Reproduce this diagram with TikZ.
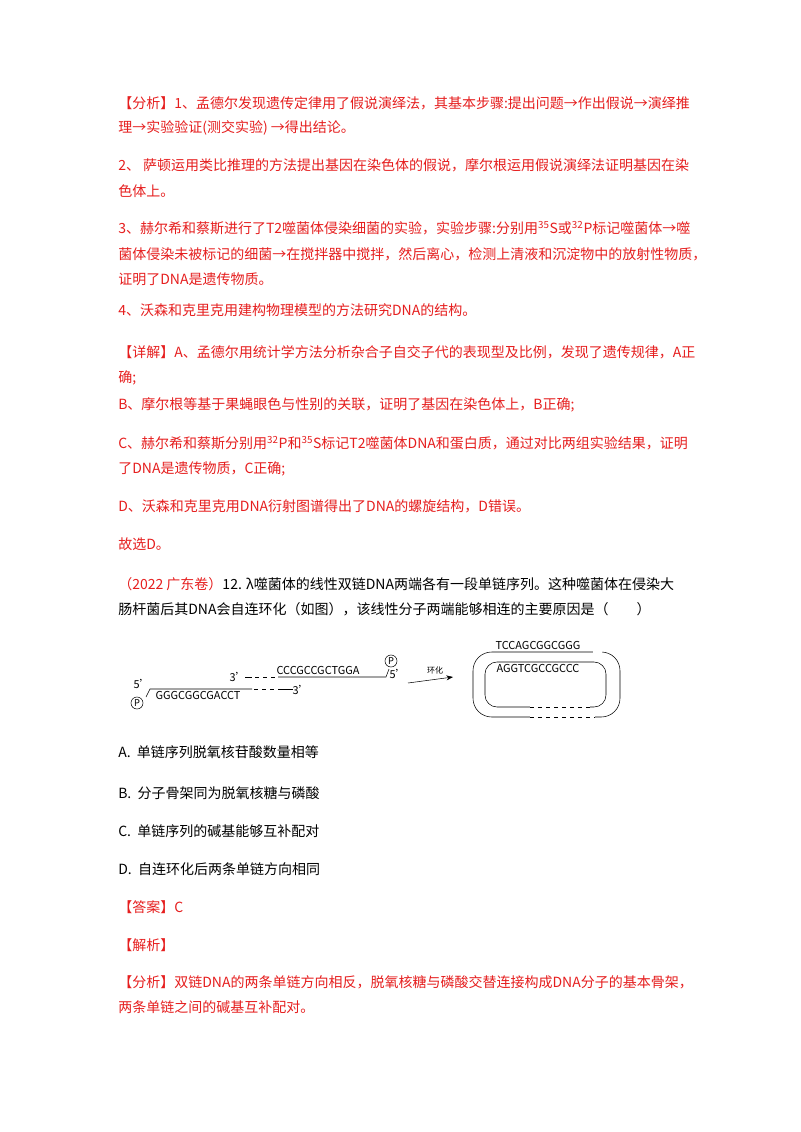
\documentclass[tikz,border=0pt]{standalone}
\usepackage{fontspec}
\setmainfont{Noto Sans CJK SC}
\usetikzlibrary{arrows.meta}
\definecolor{ansred}{RGB}{230,30,30}
\def\lx{118}
\begin{document}
\begin{tikzpicture}[x=0.75pt,y=-0.75pt,
    txt/.style={anchor=west,inner sep=0pt,font=\fontsize{10.5}{12}\selectfont},
    red/.style={txt,text=ansred},
    seq/.style={inner sep=0pt,font=\fontsize{8.2}{9}\selectfont},
    phos/.style={draw,circle,inner sep=0.8pt,font=\fontsize{7}{7}\selectfont}]
\useasboundingbox[fill=white] (0,0) rectangle (800,1132);
%分析
    \node[red] (l1) at (\lx,103) {【分析】1、孟德尔发现遗传定律用了假说演绎法，其基本步骤:提出问题→作出假说→演绎推};
    \node[red] (l2) at (\lx,128) {理→实验验证(测交实验) →得出结论。};
    \node[red] (l3) at (\lx,165) {2、 萨顿运用类比推理的方法提出基因在染色体的假说，摩尔根运用假说演绎法证明基因在染};
    \node[red] (l4) at (\lx,191) {色体上。};
    \node[red] (l5) at (\lx,228) {3、赫尔希和蔡斯进行了T2噬菌体侵染细菌的实验，实验步骤:分别用\textsuperscript{35}S或\textsuperscript{32}P标记噬菌体→噬};
    \node[red] (l6) at (\lx,254) {菌体侵染未被标记的细菌→在搅拌器中搅拌，然后离心，检测上清液和沉淀物中的放射性物质，};
    \node[red] (l7) at (\lx,279) {证明了DNA是遗传物质。};
    \node[red] (l8) at (\lx,310) {4、沃森和克里克用建构物理模型的方法研究DNA的结构。};
%详解
    \node[red] (d1) at (\lx,352) {【详解】A、孟德尔用统计学方法分析杂合子自交子代的表现型及比例，发现了遗传规律，A正};
    \node[red] (d2) at (\lx,378) {确;};
    \node[red] (d3) at (\lx,405) {B、摩尔根等基于果蝇眼色与性别的关联，证明了基因在染色体上，B正确;};
    \node[red] (d4) at (\lx,443) {C、赫尔希和蔡斯分别用\textsuperscript{32}P和\textsuperscript{35}S标记T2噬菌体DNA和蛋白质，通过对比两组实验结果，证明};
    \node[red] (d5) at (\lx,469) {了DNA是遗传物质，C正确;};
    \node[red] (d6) at (\lx,506) {D、沃森和克里克用DNA衍射图谱得出了DNA的螺旋结构，D错误。};
    \node[red] (d7) at (\lx,544) {故选D。};
%题目
    \node[txt] (q1) at (\lx,584) {\textcolor{ansred}{（2022 广东卷）}12. λ噬菌体的线性双链DNA两端各有一段单链序列。这种噬菌体在侵染大};
    \node[txt] (q2) at (\lx,609) {肠杆菌后其DNA会自连环化（如图），该线性分子两端能够相连的主要原因是（\quad\quad）};
%图
    \node[seq,anchor=south] (top) at (318,675) {CCCGCCGCTGGA};
    \node[seq] (t3) at (238,677) {3'};
    \draw (245,677) -- (252,677);
    \draw[dashed] (255,677) -- (278,677);
    \draw (278,677) -- (386,677) -- (389,669);
    \node[phos] (p1) at (391,661) {P};
    \node[seq] (t5) at (398,674) {5'};
    \node[seq,anchor=north] (bot) at (198,691) {GGGCGGCGACCT};
    \node[seq] (b5) at (142,684) {5'};
    \draw (146,697) -- (150,689) -- (252,689);
    \draw[dashed] (254,689) -- (282,689);
    \draw (282,689) -- (293,689);
    \node[seq] (b3) at (301,690) {3'};
    \node[phos] (p2) at (137,703) {P};
    \draw[-{Stealth[length=5pt]}] (408,683) -- (453,677);
    \node[seq,font=\fontsize{6}{6}\selectfont] (hh) at (435,670) {环化};
    \draw[rounded corners=14] (473,652) rectangle (620,717);
    \draw[rounded corners=9] (485,662) rectangle (606,707);
    \draw[white,line width=1.2pt] (530,717) -- (595,717) (530,707) -- (590,707);
    \draw[dashed] (530,717) -- (595,717) (530,707) -- (590,707);
    \draw[white,line width=1.2pt] (593,652) -- (602,652);
    \node[seq,anchor=south] (rt) at (538,650) {TCCAGCGGCGGG};
    \node[seq,anchor=north] (rb) at (538,664) {AGGTCGCCGCCC};
%选项
    \node[txt] (oa) at (\lx,752) {A.\ \ 单链序列脱氧核苷酸数量相等};
    \node[txt] (ob) at (\lx,793) {B.\ \ 分子骨架同为脱氧核糖与磷酸};
    \node[txt] (oc) at (\lx,831) {C.\ \ 单链序列的碱基能够互补配对};
    \node[txt] (od) at (\lx,869) {D.\ \ 自连环化后两条单链方向相同};
    \node[red] (an) at (\lx,907) {【答案】C};
    \node[red] (jx) at (\lx,945) {【解析】};
    \node[red] (f1) at (\lx,982) {【分析】双链DNA的两条单链方向相反，脱氧核糖与磷酸交替连接构成DNA分子的基本骨架，};
    \node[red] (f2) at (\lx,1007) {两条单链之间的碱基互补配对。};
\end{tikzpicture}
\end{document}
